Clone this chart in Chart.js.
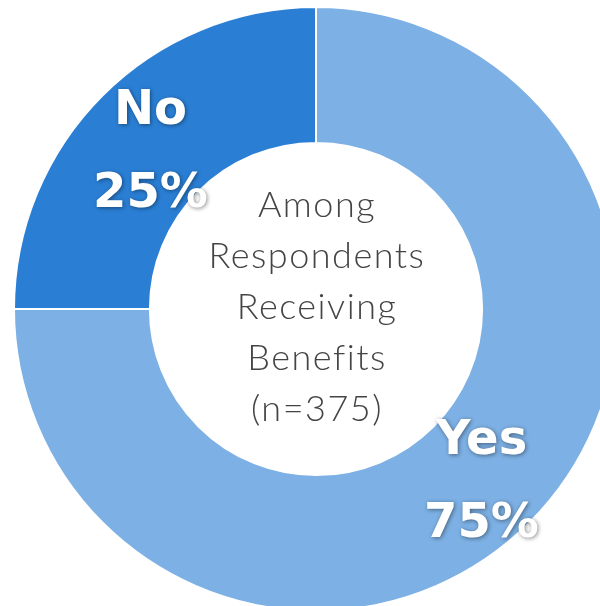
<!DOCTYPE html>
<html>
<head>
<meta charset="utf-8">
<script src="https://cdn.jsdelivr.net/npm/chart.js@4"></script>
<style>
  html, body { margin: 0; padding: 0; background: #fff; overflow: hidden; width: 600px; height: 606px; }
  #wrap { position: absolute; left: 13px; top: 6px; width: 606px; height: 606px; }
</style>
</head>
<body>
<div id="wrap"><canvas id="c" width="606" height="606"></canvas></div>
<script>
// Share of respondents receiving benefits
const categories = ['Yes', 'No'];
const shares = [75, 25];
const sliceColors = ['#7db0e4', '#2a7fd5'];
const centerLines = ['Among', 'Respondents', 'Receiving', 'Benefits', '(n=375)'];

// Writes the two-line category / percentage label at each slice's centroid
const sliceLabels = {
  id: 'sliceLabels',
  afterDatasetsDraw(chart) {
    const ctx = chart.ctx;
    const meta = chart.getDatasetMeta(0);
    ctx.save();
    ctx.font = 'bold 48px "DejaVu Sans", sans-serif';
    ctx.fillStyle = '#ffffff';
    ctx.textAlign = 'center';
    ctx.textBaseline = 'alphabetic';
    ctx.shadowColor = 'rgba(0,0,0,0.45)';
    ctx.shadowBlur = 4;
    ctx.shadowOffsetX = 1;
    ctx.shadowOffsetY = 1;
    meta.data.forEach((arc, i) => {
      const p = arc.tooltipPosition();
      ctx.fillText(chart.data.labels[i], p.x, p.y - 20);
      ctx.fillText(chart.data.datasets[0].data[i] + '%', p.x, p.y + 63);
    });
    ctx.restore();
  }
};

// Caption in the hole of the ring
const centerText = {
  id: 'centerText',
  afterDatasetsDraw(chart) {
    const ctx = chart.ctx;
    const arc = chart.getDatasetMeta(0).data[0];
    ctx.save();
    ctx.font = '300 36px Lato, Roboto, sans-serif';
    ctx.letterSpacing = '1.5px';
    ctx.fillStyle = '#444444';
    ctx.textAlign = 'center';
    ctx.textBaseline = 'middle';
    const lh = 51;
    const start = arc.y - 2 - lh * (centerLines.length - 1) / 2;
    centerLines.forEach((t, i) => ctx.fillText(t, arc.x + 1, start + i * lh));
    ctx.restore();
  }
};

new Chart(document.getElementById('c'), {
  type: 'doughnut',
  data: {
    labels: categories,
    datasets: [{
      data: shares,
      backgroundColor: sliceColors,
      borderColor: '#ffffff',
      borderWidth: 2
    }]
  },
  options: {
    responsive: false,
    animation: false,
    cutout: '55%',
    layout: { padding: 0 },
    plugins: { legend: { display: false }, tooltip: { enabled: false } }
  },
  plugins: [sliceLabels, centerText]
});
</script>
</body>
</html>
